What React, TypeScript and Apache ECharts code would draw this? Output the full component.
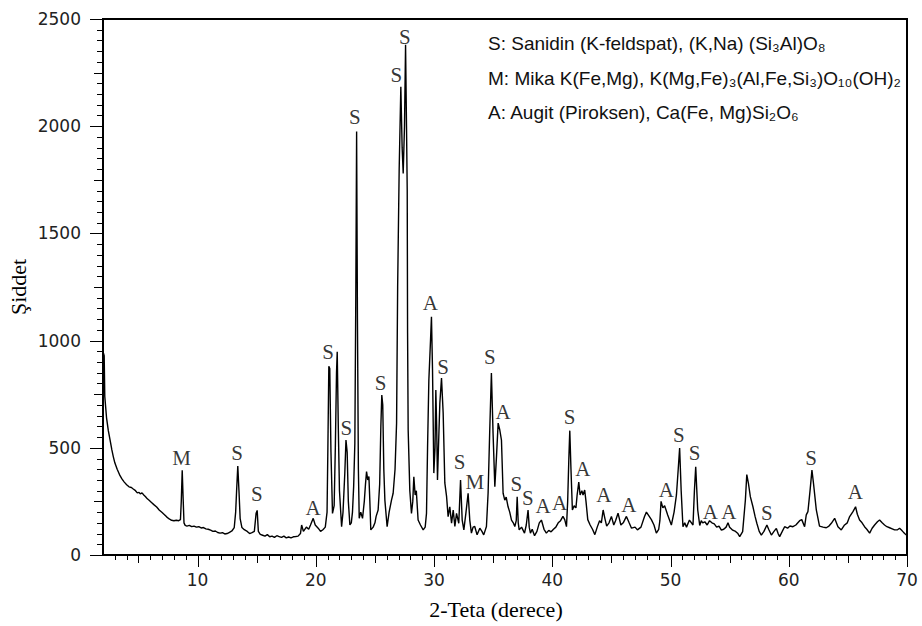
import React, { useEffect, useRef } from "react";
import * as echarts from "echarts";

// XRD scan: [2-theta (deg), intensity]
const scan: [number, number][] = [
  [2.02, 945], [2.1, 930], [2.15, 740], [2.3, 640], [2.45, 580], [2.6, 536], [2.75, 490], [2.87, 459],
  [3.0, 430], [3.2, 400], [3.44, 370], [3.6, 355], [3.8, 340], [4.0, 328], [4.2, 318], [4.4, 315],
  [4.56, 308], [4.75, 300], [4.9, 290], [5.05, 292], [5.15, 285], [5.3, 290], [5.45, 280], [5.6, 272],
  [5.75, 262], [5.9, 255], [6.1, 245], [6.3, 235], [6.54, 224], [6.75, 210], [7.0, 198], [7.2, 188],
  [7.38, 178], [7.6, 168], [7.8, 162], [8.0, 160], [8.2, 162], [8.4, 160], [8.55, 165], [8.62, 250],
  [8.7, 395], [8.78, 260], [8.85, 150], [8.95, 138], [9.1, 135], [9.3, 138], [9.5, 132], [9.7, 135],
  [9.9, 130], [10.1, 132], [10.3, 126], [10.5, 128], [10.7, 122], [10.9, 120], [11.1, 116], [11.3, 110],
  [11.5, 112], [11.7, 105], [11.9, 102], [12.1, 104], [12.3, 98], [12.5, 100], [12.7, 106], [12.9, 112],
  [13.1, 128], [13.22, 200], [13.3, 300], [13.4, 415], [13.5, 300], [13.6, 170], [13.75, 128], [13.95, 118],
  [14.2, 110], [14.4, 100], [14.6, 104], [14.8, 110], [14.95, 195], [15.04, 208], [15.14, 110], [15.3, 96],
  [15.5, 92], [15.7, 88], [15.9, 95], [16.1, 85], [16.3, 88], [16.5, 82], [16.7, 90], [16.9, 86],
  [17.1, 82], [17.3, 88], [17.5, 80], [17.7, 84], [17.9, 80], [18.1, 85], [18.3, 86], [18.5, 88],
  [18.7, 100], [18.8, 140], [18.95, 110], [19.2, 130], [19.4, 120], [19.55, 140], [19.78, 171], [19.95, 140],
  [20.2, 125], [20.4, 110], [20.6, 118], [20.8, 130], [20.95, 200], [21.02, 500], [21.1, 880], [21.18, 870],
  [21.28, 480], [21.41, 194], [21.55, 230], [21.65, 500], [21.75, 850], [21.81, 948], [21.9, 600], [22.0, 300],
  [22.18, 132], [22.3, 200], [22.45, 380], [22.55, 536], [22.65, 480], [22.75, 250], [22.88, 140], [23.0, 150],
  [23.1, 200], [23.2, 320], [23.3, 520], [23.38, 1200], [23.45, 1975], [23.52, 1100], [23.6, 400], [23.67, 171],
  [23.8, 200], [23.95, 171], [24.1, 250], [24.2, 330], [24.29, 389], [24.39, 350], [24.49, 366], [24.57, 250],
  [24.65, 117], [24.85, 130], [25.0, 150], [25.1, 180], [25.27, 210], [25.4, 330], [25.5, 600], [25.58, 746],
  [25.66, 700], [25.75, 400], [25.84, 256], [26.03, 132], [26.2, 200], [26.4, 256], [26.54, 288], [26.7, 400],
  [26.83, 615], [26.92, 1250], [27.05, 1800], [27.19, 2184], [27.3, 1900], [27.39, 1780], [27.5, 2000], [27.59, 2380],
  [27.67, 2000], [27.73, 1700], [27.76, 1035], [27.81, 583], [27.95, 300], [28.09, 194], [28.2, 250], [28.29, 365],
  [28.4, 280], [28.5, 300], [28.65, 163], [28.85, 140], [29.08, 117], [29.25, 130], [29.36, 194], [29.45, 500],
  [29.56, 816], [29.7, 1000], [29.78, 1111], [29.87, 863], [29.98, 382], [30.08, 500], [30.15, 770], [30.22, 600],
  [30.29, 350], [30.4, 550], [30.49, 709], [30.63, 825], [30.77, 662], [30.91, 336], [31.06, 272], [31.19, 179],
  [31.33, 225], [31.48, 148], [31.62, 210], [31.76, 133], [31.9, 194], [32.09, 148], [32.24, 350], [32.38, 163],
  [32.52, 117], [32.69, 194], [32.88, 288], [33.02, 163], [33.16, 102], [33.3, 130], [33.44, 133], [33.64, 94],
  [33.87, 125], [34.05, 110], [34.2, 94], [34.43, 133], [34.57, 288], [34.71, 583], [34.85, 849], [34.99, 568],
  [35.14, 319], [35.28, 459], [35.42, 615], [35.56, 583], [35.7, 536], [35.84, 288], [35.98, 256], [36.1, 270],
  [36.26, 225], [36.4, 200], [36.55, 163], [36.7, 150], [36.83, 133], [36.95, 160], [37.03, 272], [37.12, 150],
  [37.2, 117], [37.4, 130], [37.65, 102], [37.8, 140], [37.95, 210], [38.05, 130], [38.15, 102], [38.3, 120],
  [38.5, 90], [38.7, 110], [38.9, 150], [39.08, 163], [39.3, 120], [39.5, 102], [39.7, 115], [39.9, 108],
  [40.1, 120], [40.3, 130], [40.5, 150], [40.7, 160], [40.9, 180], [41.05, 165], [41.2, 132], [41.3, 250],
  [41.4, 450], [41.48, 580], [41.58, 400], [41.7, 210], [41.85, 230], [42.0, 220], [42.1, 280], [42.24, 340],
  [42.35, 280], [42.5, 300], [42.6, 280], [42.74, 303], [42.85, 250], [43.0, 165], [43.2, 140], [43.4, 120],
  [43.6, 95], [43.8, 130], [44.0, 160], [44.15, 150], [44.3, 210], [44.45, 170], [44.6, 135], [44.8, 150],
  [45.0, 180], [45.2, 140], [45.35, 160], [45.56, 195], [45.8, 140], [46.0, 150], [46.27, 180], [46.5, 150],
  [46.7, 125], [47.0, 130], [47.2, 117], [47.5, 130], [47.8, 180], [47.96, 200], [48.2, 180], [48.38, 165],
  [48.6, 140], [48.8, 102], [49.0, 120], [49.1, 160], [49.2, 250], [49.35, 220], [49.5, 230], [49.76, 187],
  [50.07, 140], [50.3, 200], [50.5, 280], [50.65, 400], [50.77, 499], [50.9, 300], [51.05, 132], [51.2, 150],
  [51.35, 130], [51.6, 163], [51.9, 140], [52.02, 300], [52.13, 412], [52.3, 210], [52.47, 138], [52.6, 160],
  [52.72, 150], [52.9, 155], [53.1, 140], [53.3, 160], [53.5, 150], [53.7, 145], [53.9, 130], [54.1, 135],
  [54.3, 116], [54.5, 120], [54.7, 130], [54.86, 150], [55.0, 130], [55.26, 116], [55.5, 110], [55.7, 100],
  [55.85, 86], [56.1, 109], [56.33, 256], [56.45, 375], [56.6, 330], [56.75, 272], [56.97, 225], [57.15, 180],
  [57.3, 148], [57.5, 110], [57.68, 93], [57.9, 110], [58.15, 140], [58.3, 120], [58.53, 93], [58.75, 110],
  [58.95, 124], [59.1, 100], [59.23, 86], [59.45, 110], [59.65, 132], [59.9, 125], [60.1, 135], [60.35, 132],
  [60.6, 140], [60.92, 160], [61.1, 165], [61.34, 132], [61.48, 187], [61.62, 202], [61.8, 300], [61.96, 396],
  [62.1, 330], [62.33, 210], [62.6, 135], [62.9, 130], [63.17, 127], [63.4, 135], [63.6, 148], [63.88, 171],
  [64.16, 132], [64.44, 117], [64.72, 140], [64.95, 150], [65.15, 179], [65.43, 202], [65.65, 225], [65.8, 190],
  [65.99, 163], [66.2, 150], [66.41, 132], [66.6, 120], [66.84, 102], [67.05, 125], [67.26, 140], [67.5, 155],
  [67.68, 163], [67.9, 150], [68.1, 140], [68.3, 132], [68.53, 127], [68.75, 122], [68.95, 117], [69.2, 118],
  [69.37, 125], [69.55, 115], [69.65, 109], [69.8, 100], [69.95, 93],
];

// Phase labels over the peaks
const peakAngle = [8.65, 13.35, 15.01, 19.77, 21.04, 22.59, 23.3, 25.47, 26.82, 27.52, 29.68, 30.76, 32.17, 33.44,
  34.71, 35.83, 36.96, 37.94, 39.21, 40.62, 41.47, 42.59, 44.36, 46.48, 49.64, 50.7, 52.03, 53.36, 54.93, 58.14,
  61.89, 65.63];
const peakLabelY = [451, 477, 285, 218, 948, 591, 2044, 801, 2239, 2417, 1174, 878, 435, 342, 925, 668, 331, 264,
  229, 243, 642, 400, 280, 233, 303, 560, 474, 202, 202, 194, 451, 295];
const peakPhase = ["M", "S", "S", "A", "S", "S", "S", "S", "S", "S", "A", "S", "S", "M", "S", "A", "S", "S", "A",
  "A", "S", "A", "A", "A", "A", "S", "S", "A", "A", "S", "S", "A"];

const X_MIN = 2;
const X_MAX = 70;
const Y_MAX = 2500;
const xLabelTicks = [10, 20, 30, 40, 50, 60, 70];
const xMidTicks = [5, 15, 25, 35, 45, 55, 65];
const xMinorTicks = [3, 4, 6, 7, 8, 9, 11, 12, 13, 14, 16, 17, 18, 19, 21, 22, 23, 24, 26, 27, 28, 29, 31, 32, 33,
  34, 36, 37, 38, 39, 41, 42, 43, 44, 46, 47, 48, 49, 51, 52, 53, 54, 56, 57, 58, 59, 61, 62, 63, 64, 66, 67, 68, 69];
const yLabelTicks = [0, 500, 1000, 1500, 2000, 2500];
const yMidTicks = [250, 750, 1250, 1750, 2250];
const yMinorTicks = Array.from({ length: Y_MAX / 50 + 1 }, (_, i) => i * 50).filter((v) => v % 250 !== 0);

// Legend lines (phase key)
const legendLines = [
  "S: Sanidin (K-feldspat), (K,Na) (Si₃Al)O₈",
  "M: Mika K(Fe,Mg), K(Mg,Fe)₃(Al,Fe,Si₃)O₁₀(OH)₂",
  "A: Augit (Piroksen), Ca(Fe, Mg)Si₂O₆",
];
const legendY = [43, 78, 112];

const GRID = { left: 103, right: 15, top: 19, bottom: 71 };

const xTickSeries = (vals: number[], len: number) => ({
  type: "custom",
  clip: false,
  silent: true,
  data: vals.map((v) => [v, 0]),
  renderItem: (_p: any, api: any) => {
    const pt = api.coord([api.value(0), 0]);
    const x = Math.round(pt[0]) + 0.5;
    return {
      type: "line",
      shape: { x1: x, y1: pt[1], x2: x, y2: pt[1] + len },
      style: { stroke: "#000", lineWidth: 1 },
    };
  },
  z: 5,
});

const yTickSeries = (vals: number[], len: number) => ({
  type: "custom",
  clip: false,
  silent: true,
  data: vals.map((v) => [X_MIN, v]),
  renderItem: (_p: any, api: any) => {
    const pt = api.coord([X_MIN, api.value(1)]);
    const y = Math.round(pt[1]) + 0.5;
    return {
      type: "line",
      shape: { x1: pt[0] - len, y1: y, x2: pt[0], y2: y },
      style: { stroke: "#000", lineWidth: 1 },
    };
  },
  z: 5,
});

export default function App() {
  const ref = useRef<HTMLDivElement>(null);

  useEffect(() => {
    document.body.style.margin = "0";
    if (!ref.current) return;
    const chart = echarts.init(ref.current, undefined, { renderer: "svg" });
    const tickFont = { fontFamily: "DejaVu Sans", fontSize: 17, color: "#222" };

    chart.setOption({
      animation: false,
      grid: { ...GRID, show: true, borderColor: "#000", borderWidth: 2, backgroundColor: "transparent" },
      xAxis: {
        type: "value",
        min: X_MIN,
        max: X_MAX,
        axisLine: { show: true, lineStyle: { color: "#000", width: 2 } },
        axisTick: { show: false },
        axisLabel: {
          show: true,
          customValues: xLabelTicks,
          margin: 16,
          formatter: (v: number) => String(v),
          ...tickFont,
        },
        splitLine: { show: false },
      },
      yAxis: {
        type: "value",
        min: 0,
        max: Y_MAX,
        interval: 500,
        axisLine: { show: true, lineStyle: { color: "#000", width: 2 } },
        axisTick: { show: false },
        axisLabel: { show: true, margin: 22, formatter: (v: number) => String(v), ...tickFont },
        splitLine: { show: false },
      },
      series: [
        {
          type: "line",
          data: scan,
          showSymbol: false,
          symbol: "none",
          lineStyle: { color: "#000", width: 1.4 },
          z: 3,
        },
        {
          type: "scatter",
          data: peakAngle.map((a, i) => ({ value: [a, peakLabelY[i]], name: peakPhase[i] })),
          symbolSize: 1,
          itemStyle: { color: "rgba(0,0,0,0)" },
          label: {
            show: true,
            position: "inside",
            formatter: "{b}",
            fontFamily: "Liberation Serif",
            fontSize: 21,
            color: "#000",
          },
          z: 4,
        },
        xTickSeries(xLabelTicks, 12),
        xTickSeries(xMidTicks, 8),
        xTickSeries(xMinorTicks, 5),
        yTickSeries(yLabelTicks, 13),
        yTickSeries(yMidTicks, 9),
        yTickSeries(yMinorTicks, 6),
      ],
      graphic: [
        {
          type: "text",
          x: 18,
          y: 287,
          rotation: Math.PI / 2,
          style: {
            text: "Şiddet",
            fontFamily: "Liberation Serif",
            fontSize: 22,
            fill: "#000",
            align: "center",
            verticalAlign: "middle",
          },
        },
        {
          type: "text",
          x: 496,
          y: 609,
          style: {
            text: "2-Teta (derece)",
            fontFamily: "Liberation Serif",
            fontSize: 22,
            fill: "#000",
            align: "center",
            verticalAlign: "middle",
          },
        },
        ...legendLines.map((t, i) => ({
          type: "text",
          x: 488,
          y: legendY[i],
          style: {
            text: t,
            fontFamily: "Liberation Sans, DejaVu Sans",
            fontSize: 19,
            fill: "#111",
            align: "left",
            verticalAlign: "middle",
          },
        })),
      ],
    });

    return () => chart.dispose();
  }, []);

  return <div ref={ref} style={{ width: 922, height: 626 }} />;
}
